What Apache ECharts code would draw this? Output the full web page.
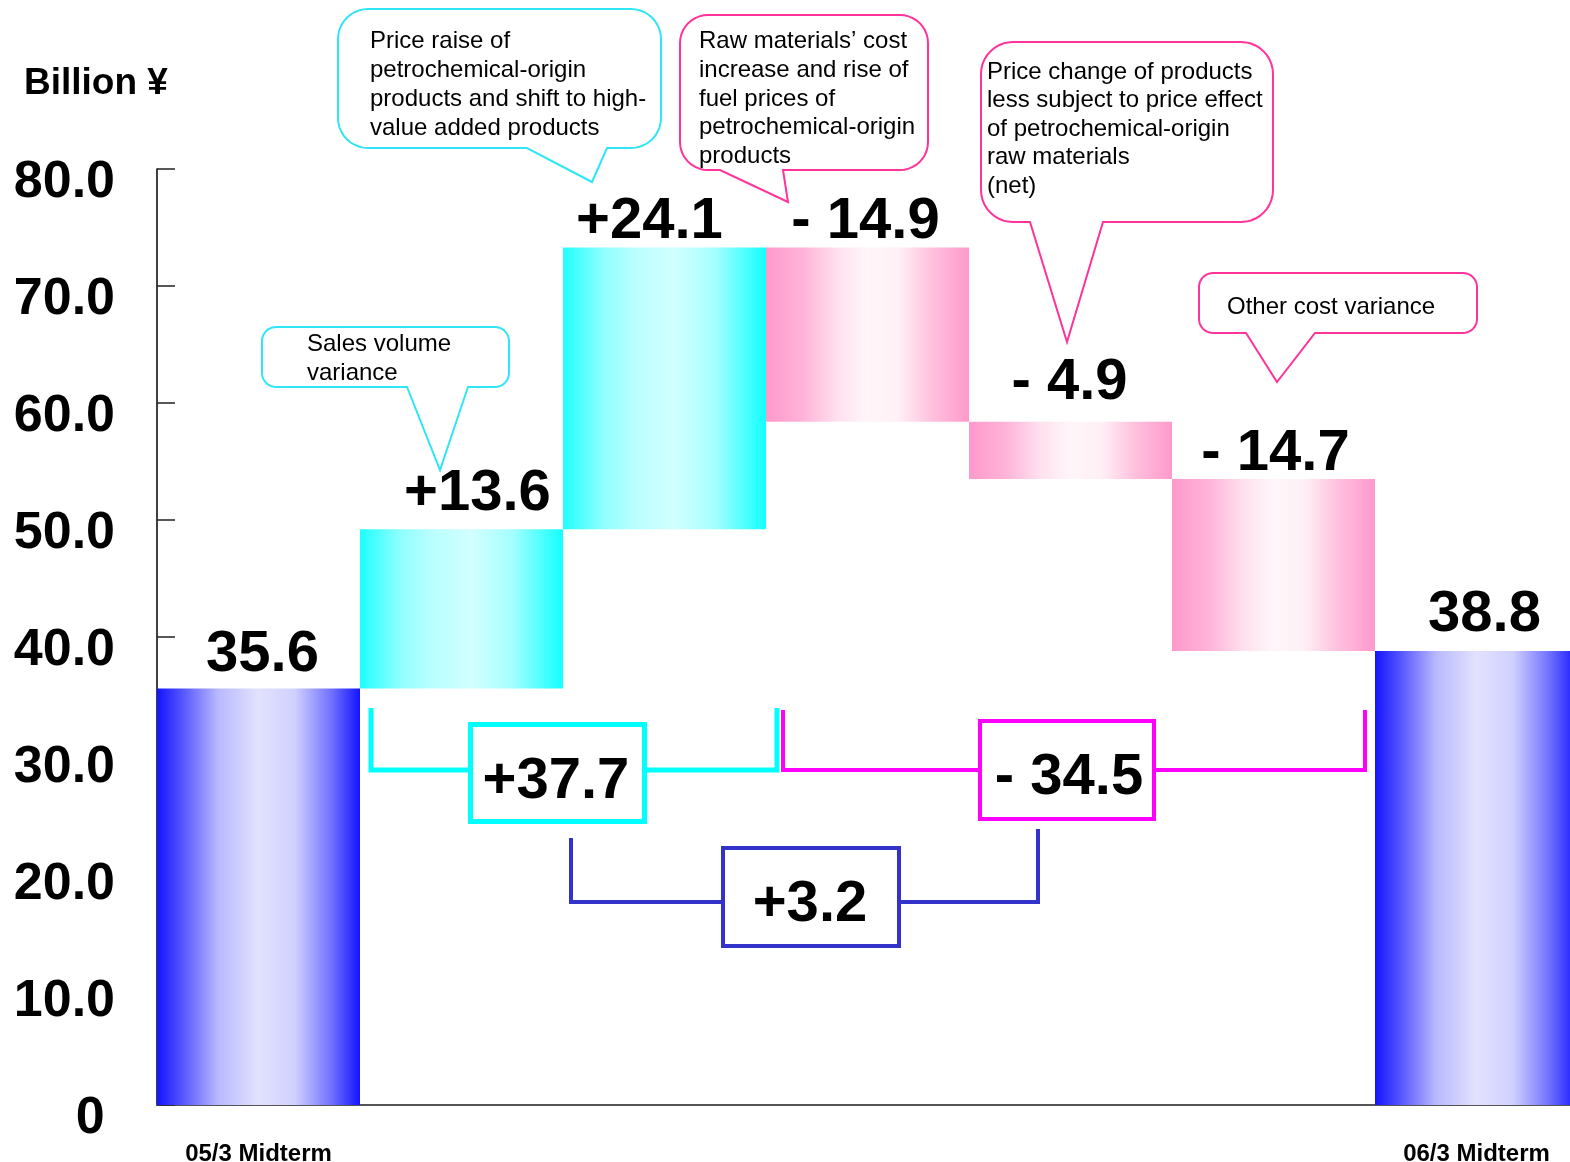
<!DOCTYPE html>
<html><head><meta charset="utf-8">
<script src="https://cdn.jsdelivr.net/npm/echarts@6/dist/echarts.min.js"></script>
<style>html,body{margin:0;padding:0;background:#fff}#c{width:1570px;height:1162px}</style>
</head><body><div id="c"></div>
<script>
// ---- data ----
const categories = ['05/3 Midterm', 'Sales volume variance', 'Price raise', 'Raw materials cost', 'Price change (net)', 'Other cost variance', '06/3 Midterm'];
const axisTickLabels = ['05/3 Midterm', '', '', '', '', '', '06/3 Midterm'];
const startValue = 35.6;
const changes = [13.6, 24.1, -14.9, -4.9, -14.7];
const endValue = 38.8;
const yTickValues = [0, 10, 20, 30, 40, 50, 60, 70, 80];
const unitLabel = 'Billion \u00a5';
const callout1 = 'Sales volume\nvariance';
const callout2 = 'Price raise of\npetrochemical-origin\nproducts and shift to high-\nvalue added products';
const callout3 = 'Raw materials\u2019 cost\nincrease and rise of\nfuel prices of\npetrochemical-origin\nproducts';
const callout4 = 'Price change of products\nless subject to price effect\nof petrochemical-origin\nraw materials\n(net)';
const callout5 = 'Other cost variance';
const increaseIdx = [0, 1];      // indices into changes
const decreaseIdx = [2, 3, 4];

// ---- derived ----
const r1 = v => Math.round(v * 10) / 10;
const bases = [0], heights = [startValue], kinds = ['total'];
let cum = startValue;
changes.forEach(c => {
  if (c >= 0) { bases.push(r1(cum)); heights.push(c); kinds.push('up'); }
  else { bases.push(r1(cum + c)); heights.push(-c); kinds.push('down'); }
  cum = r1(cum + c);
});
bases.push(0); heights.push(endValue); kinds.push('total');
const fmtChange = c => c >= 0 ? '+' + c.toFixed(1) : '- ' + Math.abs(c).toFixed(1);
const barLabels = [startValue.toFixed(1)].concat(changes.map(fmtChange), [endValue.toFixed(1)]);
const incSum = r1(increaseIdx.reduce((s, i) => s + changes[i], 0));
const decSum = r1(decreaseIdx.reduce((s, i) => s + changes[i], 0));
const netSum = r1(endValue - startValue);

// ---- styles ----
const FONT = '"Liberation Sans", Arial, sans-serif';
function grad(stops) { return { type: 'linear', x: 0, y: 0, x2: 1, y2: 0, colorStops: stops.map(s => ({ offset: s[0], color: s[1] })) }; }
const fills = {
  total: grad([[0, '#1414ff'], [0.12, '#5252ff'], [0.3, '#b8b8ff'], [0.5, '#e2e2fd'], [0.68, '#d0d0ff'], [0.86, '#7070ff'], [1, '#1414ff']]),
  up: grad([[0, '#1effff'], [0.2, '#90ffff'], [0.35, '#b8ffff'], [0.55, '#d2ffff'], [0.75, '#a4ffff'], [0.92, '#40ffff'], [1, '#14ffff']]),
  down: grad([[0, '#ff99cc'], [0.18, '#ffb3d8'], [0.35, '#ffe0ee'], [0.5, '#fff6fa'], [0.65, '#fff0f6'], [0.82, '#ffc0dd'], [1, '#ff99cc']])
};
const labelOffsets = [[4, -4], [16, -6], [-15, 4], [-2, 4], [-1, -10], [2, 4], [8, -7]];

function bubble(x1, y1, x2, y2, r, tl, tr, tx, ty) {
  const pts = [];
  const arc = (cx, cy, a0, a1) => { for (let i = 0; i <= 10; i++) { const a = a0 + (a1 - a0) * i / 10; pts.push([cx + r * Math.cos(a), cy + r * Math.sin(a)]); } };
  arc(x1 + r, y1 + r, Math.PI, 1.5 * Math.PI);
  arc(x2 - r, y1 + r, 1.5 * Math.PI, 2 * Math.PI);
  arc(x2 - r, y2 - r, 0, 0.5 * Math.PI);
  pts.push([tr, y2], [tx, ty], [tl, y2]);
  arc(x1 + r, y2 - r, 0.5 * Math.PI, Math.PI);
  return pts;
}
const CY = '#30e6f4', PK = '#ff3399';
function bubbleEl(pts, color) {
  return { type: 'polygon', shape: { points: pts }, style: { fill: '#fff', stroke: color, lineWidth: 2 }, z: 10 };
}
function textEl(text, x, y, opts) {
  return { type: 'text', z: 11, style: Object.assign({ text: text, x: x, y: y, font: '24px ' + FONT, fill: '#000', textAlign: 'left', textVerticalAlign: 'top', lineHeight: 29 }, opts || {}) };
}
function bracket(color, lw, left, right, box, label, tx, ty) {
  return [
    { type: 'polyline', shape: { points: left }, style: { stroke: color, lineWidth: lw, fill: null }, z: 10 },
    { type: 'polyline', shape: { points: right }, style: { stroke: color, lineWidth: lw, fill: null }, z: 10 },
    { type: 'rect', shape: box, style: { fill: '#fff', stroke: color, lineWidth: lw }, z: 10 },
    { type: 'text', z: 11, style: { text: label, x: tx, y: ty, font: 'bold 58px ' + FONT, fill: '#000', textAlign: 'center', textVerticalAlign: 'middle' } }
  ];
}

const graphics = [
  { type: 'text', z: 11, style: { text: unitLabel, x: 24, y: 84, font: 'bold 37px ' + FONT, fill: '#000', textAlign: 'left', textVerticalAlign: 'middle' } },
  bubbleEl(bubble(262, 327, 509, 387, 14, 407, 468, 440, 470), CY),
  textEl(callout1, 307, 330),
  bubbleEl(bubble(338, 9, 661, 148, 30, 527, 607, 592, 182), CY),
  textEl(callout2, 370, 27),
  bubbleEl(bubble(680, 15, 928, 170, 28, 720, 783, 788, 202), PK),
  textEl(callout3, 699, 27, { lineHeight: 28.8 }),
  bubbleEl(bubble(981, 42, 1273, 222, 32, 1030, 1103, 1067, 342), PK),
  textEl(callout4, 987, 58, { lineHeight: 28.5 }),
  bubbleEl(bubble(1199, 273, 1477, 333, 14, 1246, 1315, 1277, 382), PK),
  textEl(callout5, 1227, 307, { textVerticalAlign: 'middle' })
].concat(
  bracket('#00ffff', 5, [[371, 708], [371, 770], [468, 770]], [[647, 770], [777, 770], [777, 708]],
    { x: 470.5, y: 724.5, width: 174, height: 97 }, fmtChange(incSum), 556, 782),
  bracket('#ff00ff', 4, [[783, 710], [783, 770], [978, 770]], [[1156, 770], [1365, 770], [1365, 710]],
    { x: 980, y: 721, width: 174, height: 98 }, fmtChange(decSum), 1069, 778),
  bracket('#3333cc', 4, [[571, 838], [571, 902], [721, 902]], [[901, 902], [1038, 902], [1038, 829]],
    { x: 723, y: 848, width: 176, height: 98 }, fmtChange(netSum), 810, 905)
);

const chart = echarts.init(document.getElementById('c'), null, { renderer: 'canvas' });
chart.setOption({
  animation: false,
  backgroundColor: '#fff',
  grid: { left: 157, top: 169, width: 1421, height: 936, containLabel: false, outerBoundsMode: 'none' },
  xAxis: {
    type: 'category', data: categories,
    axisLine: { show: true, lineStyle: { color: '#555', width: 2 } },
    axisTick: { show: false },
    axisLabel: { interval: 0, margin: 37, fontSize: 24, fontWeight: 'bold', fontFamily: FONT, color: '#000',
      formatter: (v, i) => axisTickLabels[i] },
    splitLine: { show: false }
  },
  yAxis: {
    type: 'value', min: 0, max: 80, interval: 10,
    axisLine: { show: true, lineStyle: { color: '#000', width: 1.5 } },
    axisTick: { show: true, inside: true, length: 18, lineStyle: { color: '#222', width: 1.5 } },
    axisLabel: { margin: 42, fontSize: 52, fontWeight: 'bold', fontFamily: FONT, color: '#000',
      verticalAlign: 'top', lineHeight: 28,
      formatter: v => yTickValues.indexOf(v) >= 0 ? (v === 0 ? '0\u2009' : v.toFixed(1)) : '' },
    splitLine: { show: false }
  },
  series: [
    { name: 'base', type: 'bar', stack: 'w', barCategoryGap: '0%', data: bases,
      itemStyle: { color: 'rgba(0,0,0,0)' }, emphasis: { disabled: true }, silent: true, label: { show: false } },
    { name: 'value', type: 'bar', stack: 'w', barCategoryGap: '0%',
      data: heights.map((h, i) => ({ value: h, itemStyle: { color: fills[kinds[i]] },
        label: { offset: labelOffsets[i] } })),
      emphasis: { disabled: true },
      label: { show: true, position: 'top', distance: 0, fontSize: 58, fontWeight: 'bold', fontFamily: FONT, color: '#000',
        formatter: p => barLabels[p.dataIndex] } }
  ],
  graphic: graphics
});
</script>
</body></html>
